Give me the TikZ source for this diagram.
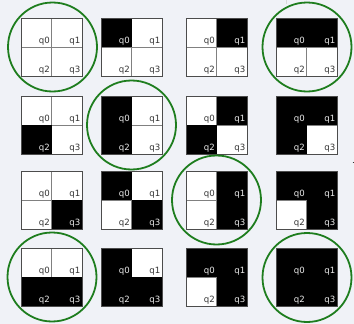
\documentclass[tikz,border=0pt]{standalone}
\usepackage{fontspec}
\setsansfont{DejaVu Sans}
\definecolor{bgc}{RGB}{240,242,247}
\definecolor{ringc}{RGB}{30,125,30}
\newcommand\pickstyle[2]{\ifnum#2=1\relax\def#1{lblb}\else\def#1{lblw}\fi}
\newcommand\qsquare[6]{% #1 left, #2 top, #3-#6 bits of q0..q3
  \pickstyle\sa{#3}\pickstyle\sb{#4}\pickstyle\sc{#5}\pickstyle\sd{#6}%
  \fill[white] (#1,#2) rectangle ++(61,58);
  \draw[crossline] (#1+30.5,#2) -- ++(0,58) (#1,#2+29) -- ++(61,0);
  \ifnum#3=1\relax \fill[black] (#1,#2) rectangle ++(30.5,29);\fi
  \ifnum#4=1\relax \fill[black] (#1+30.5,#2) rectangle ++(30.5,29);\fi
  \ifnum#5=1\relax \fill[black] (#1,#2+29) rectangle ++(30.5,29);\fi
  \ifnum#6=1\relax \fill[black] (#1+30.5,#2+29) rectangle ++(30.5,29);\fi
  \draw[outerline] (#1,#2) rectangle ++(61,58);
  \node[\sa] at (#1+29,#2+25.5) {q0};
  \node[\sb] at (#1+59.5,#2+25.5) {q1};
  \node[\sc] at (#1+29,#2+54.5) {q2};
  \node[\sd] at (#1+59.5,#2+54.5) {q3};
}
\begin{document}
\begin{tikzpicture}[x=1pt,y=-1pt,
  crossline/.style={draw=black!50,line width=0.9pt},
  outerline/.style={draw=black!70,line width=0.9pt},
  lblw/.style={font=\sffamily\fontsize{8.6}{9}\selectfont,text=black!80,anchor=base east,inner sep=0pt},
  lblb/.style={font=\sffamily\fontsize{8.6}{9}\selectfont,text=white!92!black,anchor=base east,inner sep=0pt},
  ring/.style={draw=ringc,line width=1.8pt}]
\fill[bgc] (0,0) rectangle (354,324);
\useasboundingbox (0,0) rectangle (354,324);
\draw[black!15,line width=0.6pt] (286,0) -- (286,4);
\draw[black!80,line width=0.6pt] (352.5,162) -- (354,162);
% row 0
\qsquare{21}{18}{0}{0}{0}{0}
\qsquare{101}{18}{1}{0}{0}{0}
\qsquare{186}{18}{0}{1}{0}{0}
\qsquare{276}{18}{1}{1}{0}{0}
% row 1
\qsquare{21}{96}{0}{0}{1}{0}
\qsquare{101}{96}{1}{0}{1}{0}
\qsquare{186}{96}{0}{1}{1}{0}
\qsquare{276}{96}{1}{1}{1}{0}
% row 2
\qsquare{21}{171}{0}{0}{0}{1}
\qsquare{101}{171}{1}{0}{0}{1}
\qsquare{186}{171}{0}{1}{0}{1}
\qsquare{276}{171}{1}{1}{0}{1}
% row 3
\qsquare{21}{248}{0}{0}{1}{1}
\qsquare{101}{248}{1}{0}{1}{1}
\qsquare{186}{248}{1}{1}{0}{1}
\qsquare{276}{248}{1}{1}{1}{1}
% rings
\coordinate (r00) at (52.5,47);
\coordinate (r03) at (307,47);
\coordinate (r11) at (131.5,125);
\coordinate (r22) at (216.5,200);
\coordinate (r30) at (52,277);
\coordinate (r33) at (307,277.5);
\foreach \n in {r00,r03,r11,r22,r30,r33}
  \draw[ring] (\n) circle (44.5);
\end{tikzpicture}
\end{document}
